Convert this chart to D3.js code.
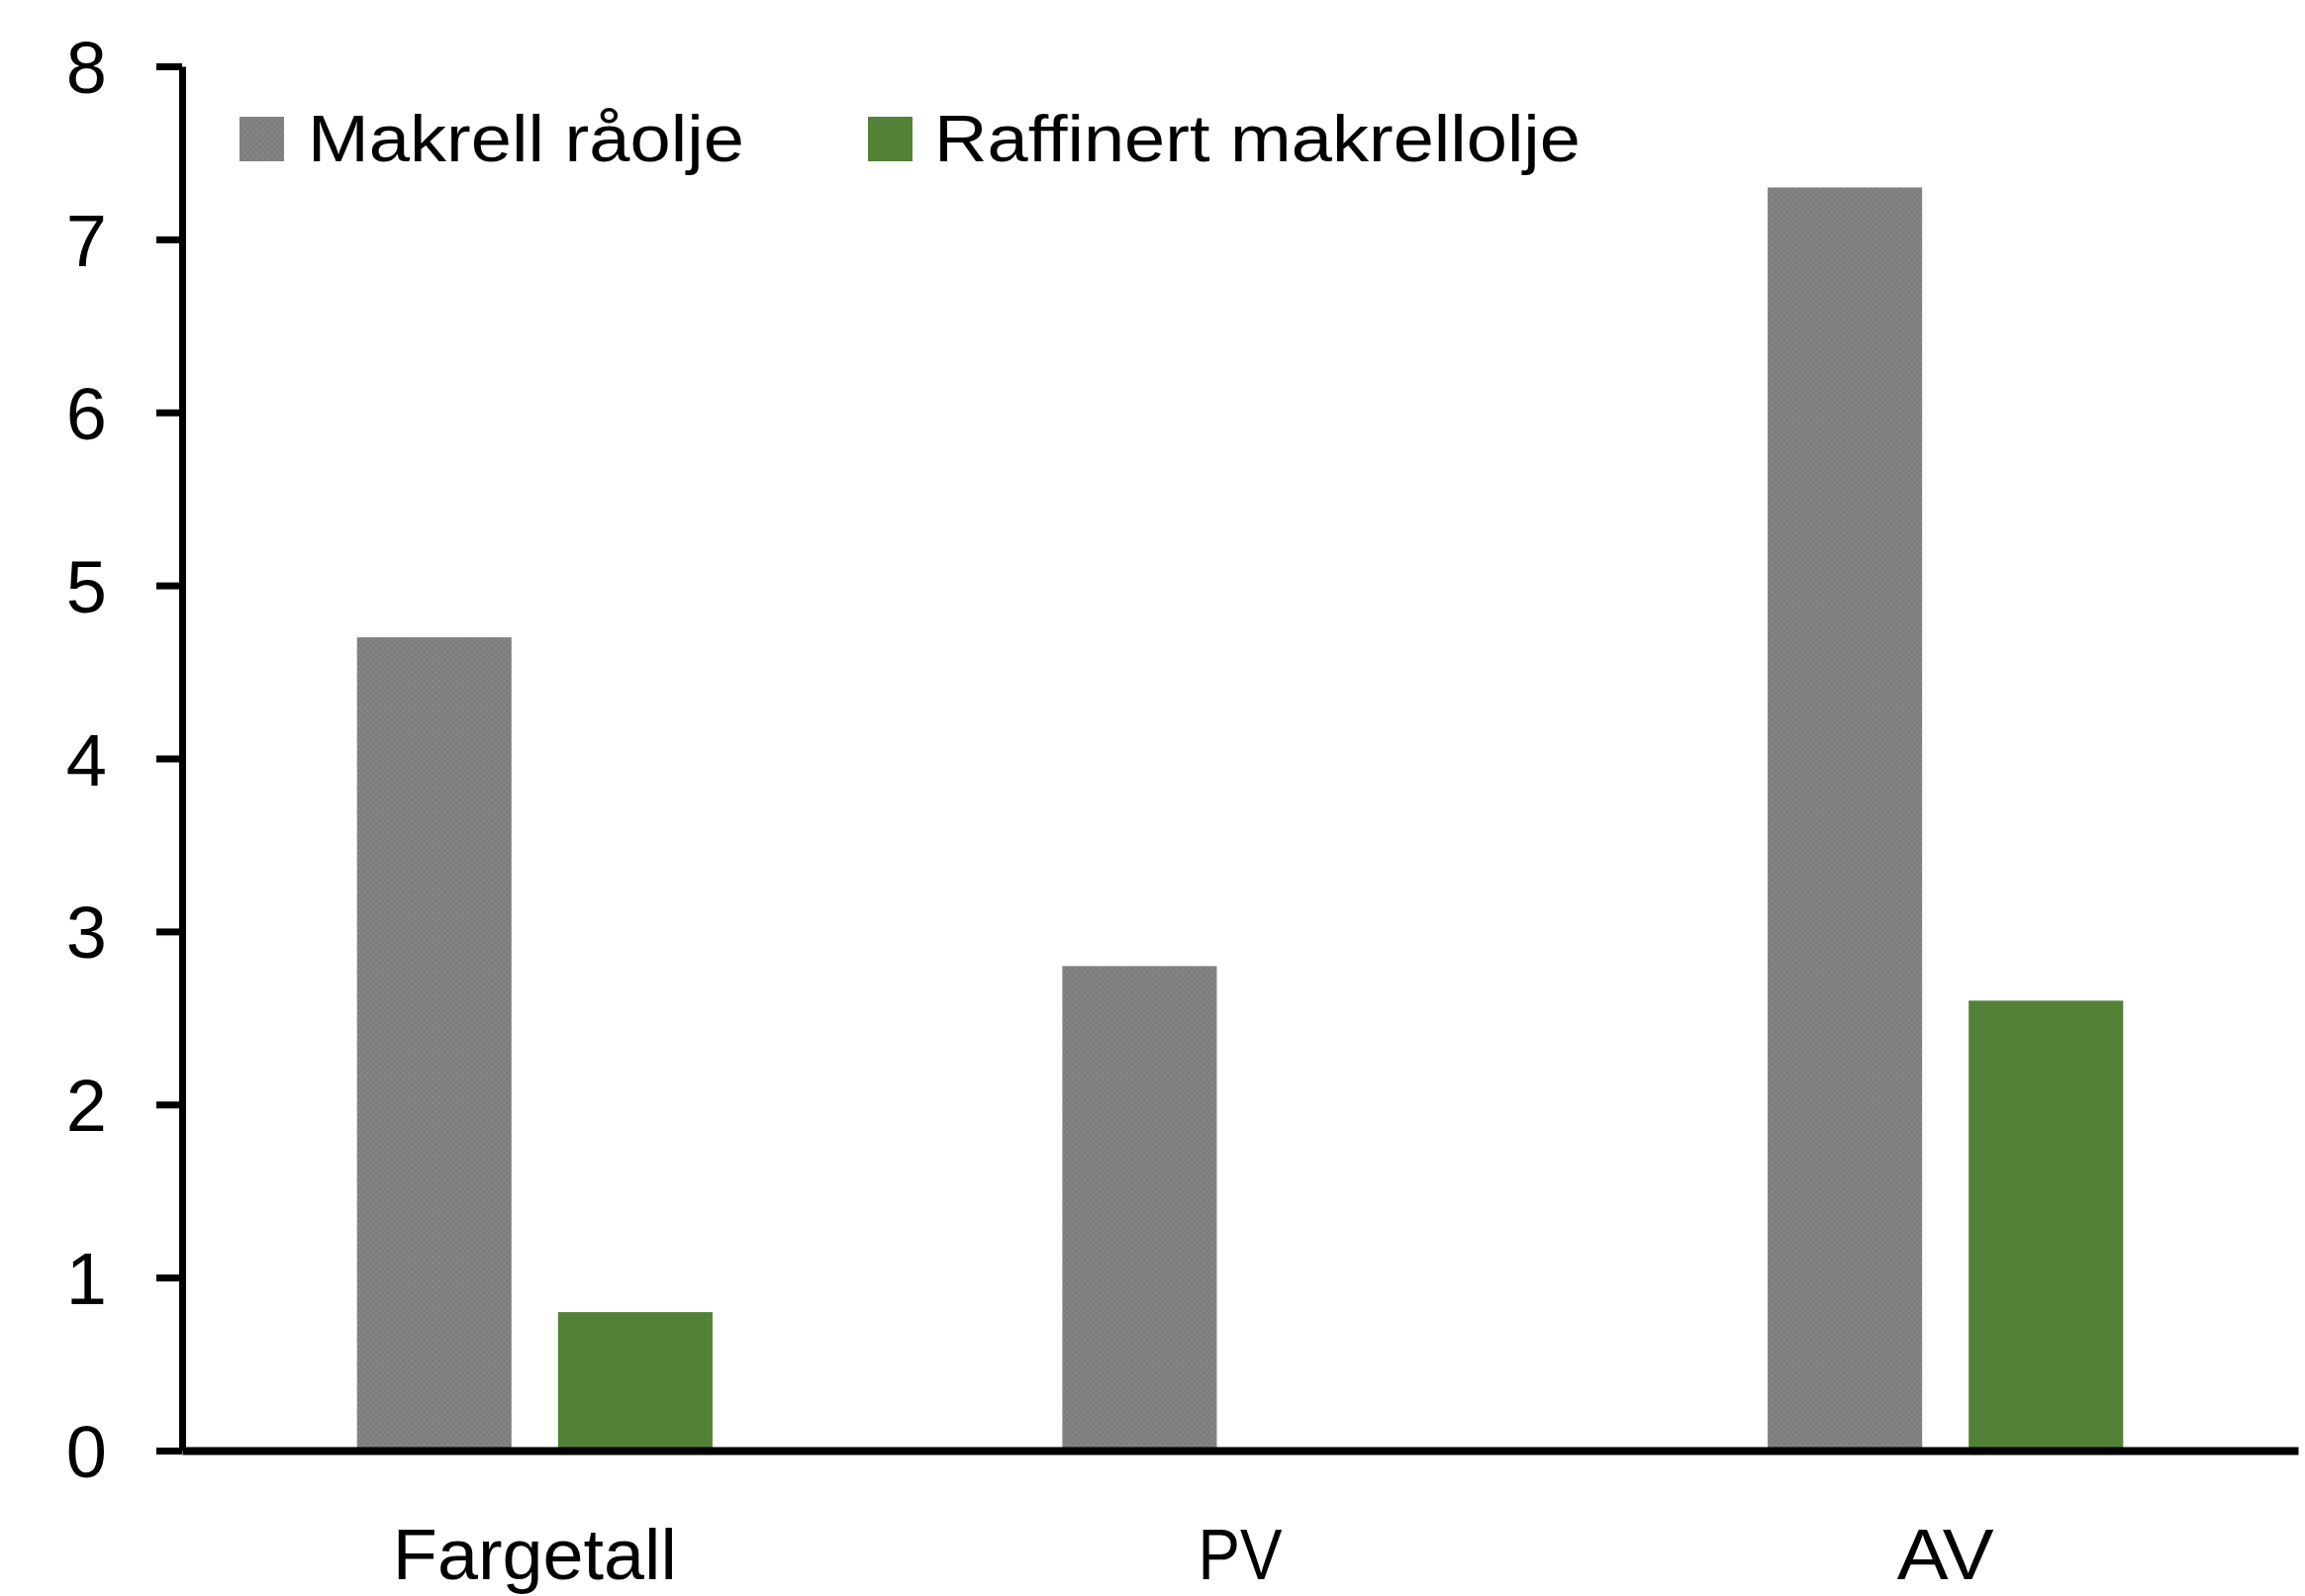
<!DOCTYPE html>
<html>
<head>
<meta charset="utf-8">
<script src="https://cdnjs.cloudflare.com/ajax/libs/d3/7.8.5/d3.min.js"></script>
<style>
  body { margin: 0; background: #fff; }
  text { font-family: "Liberation Sans", Arial, sans-serif; fill: #000; }
</style>
</head>
<body>
<script>
// Chart data
var categories = ["Fargetall", "PV", "AV"];
var seriesNames = ["Makrell råolje", "Raffinert makrellolje"];
var raaolje = [4.7, 2.8, 7.3];
var raffinert = [0.8, null, 2.6];
var yTicks = [0, 1, 2, 3, 4, 5, 6, 7, 8];

// SVG area
var svgWidth = 2329;
var svgHeight = 1613;

var svg = d3.select("body")
  .append("svg")
  .attr("width", svgWidth)
  .attr("height", svgHeight);

// grey checker fill like the original
var defs = svg.append("defs");
var pat = defs.append("pattern")
  .attr("id", "greyFill")
  .attr("width", 6)
  .attr("height", 6)
  .attr("patternUnits", "userSpaceOnUse");
pat.append("rect").attr("width", 6).attr("height", 6).attr("fill", "#858585");
pat.append("rect").attr("width", 3).attr("height", 3).attr("fill", "#7d7d7d");
pat.append("rect").attr("x", 3).attr("y", 3).attr("width", 3).attr("height", 3).attr("fill", "#7d7d7d");

var colors = ["url(#greyFill)", "#538135"];

// scales
var x0 = d3.scaleBand()
  .domain(categories)
  .range([184, 2322])
  .padding(0);

var x1 = d3.scaleBand()
  .domain(seriesNames)
  .range([0, x0.bandwidth()])
  .paddingInner(0.2315)
  .paddingOuter(0.87);

var yScale = d3.scaleLinear()
  .domain([0, 8])
  .range([1466, 67]);

// bars
var rows = categories.map(function(c, i) {
  return { cat: c, values: [raaolje[i], raffinert[i]] };
});

var groups = svg.append("g")
  .selectAll("g")
  .data(rows)
  .join("g")
  .attr("transform", d => `translate(${x0(d.cat)},0)`);

groups.selectAll("rect")
  .data(d => d.values.map((v, j) => ({ name: seriesNames[j], value: v, j: j })).filter(d => d.value != null))
  .join("rect")
  .attr("x", d => x1(d.name))
  .attr("width", x1.bandwidth())
  .attr("y", d => yScale(d.value))
  .attr("height", d => yScale(0) - yScale(d.value))
  .attr("fill", d => colors[d.j]);

// y axis
var leftAxis = d3.axisLeft(yScale)
  .tickValues(yTicks)
  .tickFormat(d3.format("d"))
  .tickSize(26)
  .tickSizeOuter(0)
  .tickPadding(50);

var yAxisG = svg.append("g")
  .attr("transform", "translate(184,0)")
  .call(leftAxis);
yAxisG.select(".domain").attr("stroke", "#000").attr("stroke-width", 7);
yAxisG.selectAll(".tick line").attr("stroke", "#000").attr("stroke-width", 7);
yAxisG.selectAll(".tick text")
  .attr("font-family", "Liberation Sans, Arial, sans-serif")
  .attr("font-size", 74)
  .attr("dy", "0.358em")
  .attr("fill", "#000");

// x axis
var bottomAxis = d3.axisBottom(x0)
  .tickSize(0)
  .tickSizeOuter(0);

var xAxisG = svg.append("g")
  .attr("transform", "translate(0,1466)")
  .call(bottomAxis);
xAxisG.select(".domain").attr("stroke", "#000").attr("stroke-width", 8);
var catWidths = { "Fargetall": 287, "PV": 85, "AV": 98 };
xAxisG.selectAll(".tick text")
  .attr("font-family", "Liberation Sans, Arial, sans-serif")
  .attr("font-size", 72)
  .attr("y", 130)
  .attr("dy", 0)
  .attr("fill", "#000")
  .attr("textLength", d => catWidths[d])
  .attr("lengthAdjust", "spacingAndGlyphs");

// legend
var legendItems = [
  { name: seriesNames[0], sx: 242, tx: 311, tw: 441, fill: colors[0] },
  { name: seriesNames[1], sx: 877, tx: 944, tw: 653, fill: colors[1] }
];

var legend = svg.append("g")
  .selectAll("g")
  .data(legendItems)
  .join("g");

legend.append("rect")
  .attr("x", d => d.sx)
  .attr("y", 118)
  .attr("width", 45)
  .attr("height", 45)
  .attr("fill", d => d.fill);

legend.append("text")
  .attr("x", d => d.tx)
  .attr("y", 163)
  .attr("font-size", 67)
  .attr("textLength", d => d.tw)
  .attr("lengthAdjust", "spacingAndGlyphs")
  .text(d => d.name);
</script>
</body>
</html>
